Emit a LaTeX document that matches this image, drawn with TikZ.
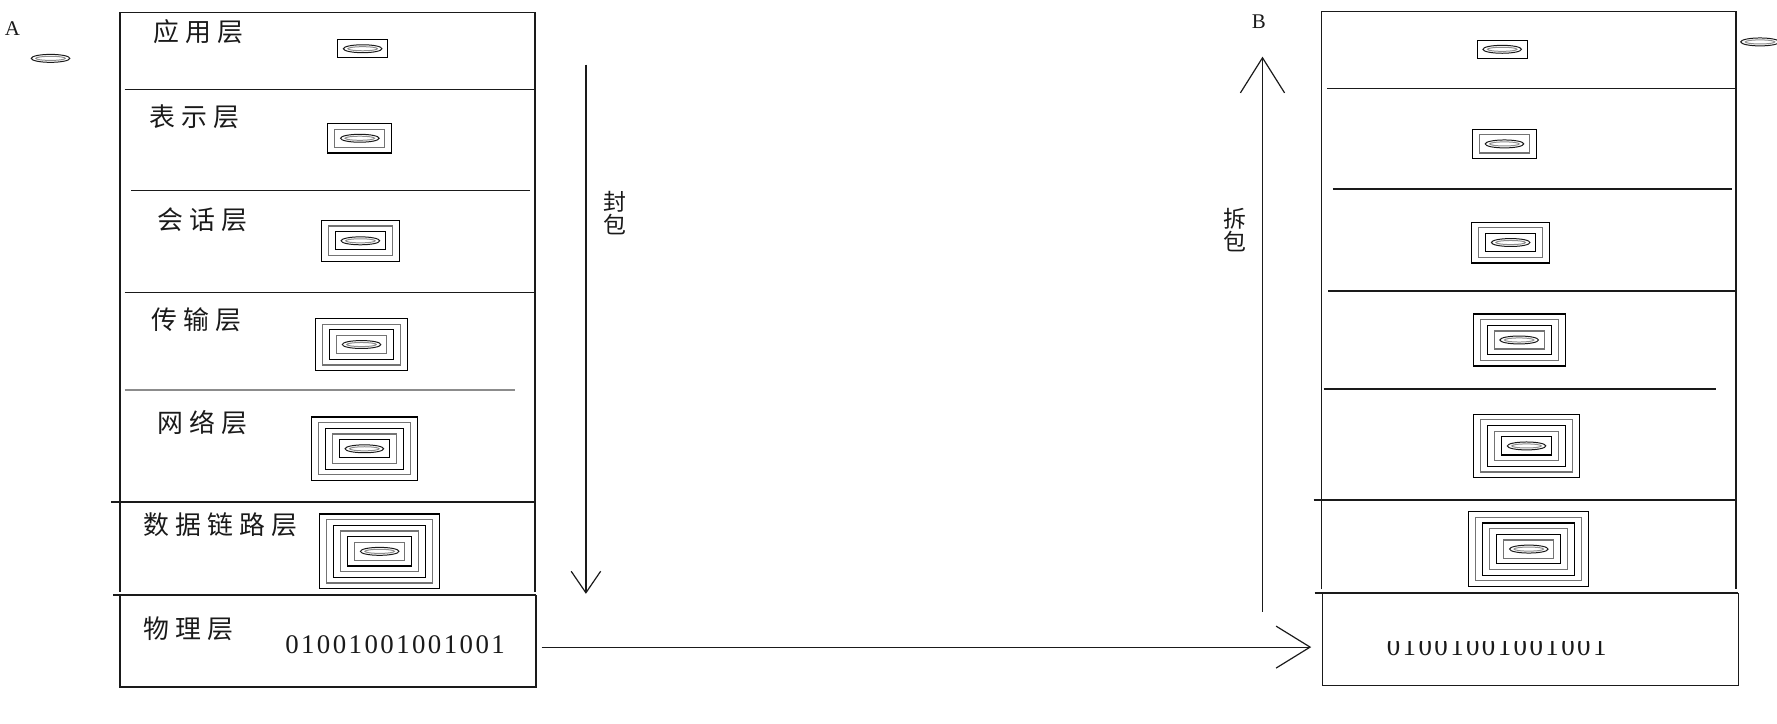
\documentclass[tikz,border=0pt]{standalone}
\usepackage{fontspec}
\setmainfont{Liberation Serif}
\newfontfamily\cjk[LetterSpace=24]{Noto Sans CJK SC}
\newfontfamily\cjktight{Noto Sans CJK SC}
\newfontfamily\bitfont[LetterSpace=9]{Liberation Serif}
\usetikzlibrary{arrows.meta}
\definecolor{osiInk}{HTML}{1A1A1A}
\definecolor{osiGray}{HTML}{8C8C8C}

\begin{document}
\begin{tikzpicture}[x=0.02cm, y=-0.02cm, line width=0.8pt, draw=osiInk,
  layer/.style={inner sep=0, anchor=west, text=osiInk, font=\fontsize{13}{15}\cjk},
  bits/.style={inner sep=0, anchor=west, text=osiInk, font=\fontsize{13.5}{15}\bitfont},
  host/.style={inner sep=0, text=osiInk, font=\fontsize{10.5}{12}\selectfont},
  flow/.style={inner sep=0, align=center, text=osiInk, font=\fontsize{11.5}{11.5}\cjktight},
  wire/.style={line width=0.6pt}]
  \useasboundingbox (0,0) rectangle (1568,638);
  % Payload and nested headers: centre x, centre y, number of frames
  \newcommand{\pill}[2]{\draw[line width=0.5pt] (#1,#2) ellipse [x radius=17, y radius=3.5];
    \draw[osiGray, line width=0.5pt] (#1,#2) ellipse [x radius=13, y radius=1.8];}
  \newcommand{\packet}[3]{\foreach \i in {1,...,#3}{
      \pgfmathtruncatemacro\tone{100-45*mod(#3-\i,2)}
      \draw[black!\tone, line width=0.6pt] ({#1-22-6.2*(\i-1)},{#2-8-5*(\i-1)}) rectangle ({#1+22+6.2*(\i-1)},{#2+8+5*(\i-1)});}
    \pill{#1}{#2}}
  % Host A
  \node[host] (hostA) at (11,25) {A};
  \pill{44.6}{51.5}
  \draw (106,522) -- (106,11) -- (472,11) -- (472,522);
  \foreach \y/\a/\b in {79/110/472, 168/116/468, 258/110/472, 443/98/472} \draw (\a,\y) -- (\b,\y);
  \draw[osiGray] (110,344) -- (454,344);
  \draw (100,525) -- (473,525) (106,525) -- (106,606) -- (473,606) -- (473,525);
  \node[layer] (appA) at (135,28) {应用层};
  \node[layer] (preA) at (131,103) {表示层};
  \node[layer] (sesA) at (138,193.5) {会话层};
  \node[layer] (traA) at (133,282) {传输层};
  \node[layer] (netA) at (138,373) {网络层};
  \node[layer] (dlkA) at (126,463) {数据链路层};
  \node[layer] (phyA) at (126,555) {物理层};
  \node[bits] (bitsA) at (251,569) {01001001001001};
  \packet{320}{43}{1}
  \packet{317.5}{122}{2}
  \packet{318}{212.5}{3}
  \packet{319}{304}{4}
  \packet{321.5}{396}{5}
  \packet{335}{486.5}{6}
  % Host B
  \node[host] (hostB) at (1110.7,19) {B};
  \pill{1553}{37}
  \draw (1166,520) -- (1166,10) -- (1532,10) -- (1532,520);
  \foreach \y/\a/\b in {78/1171/1532, 167/1176/1528, 257/1172/1532, 343/1168/1514, 441/1159/1532} \draw (\a,\y) -- (\b,\y);
  \draw (1160,523) -- (1534,523) (1167,523) -- (1167,605) -- (1534,605) -- (1534,523);
  \begin{scope}
    \clip (1200,566) rectangle (1450,600);
    \node[bits] (bitsB) at (1223,571) {01001001001001};
  \end{scope}
  \packet{1325.5}{43.5}{1}
  \packet{1327.5}{127}{2}
  \packet{1333}{214}{3}
  \packet{1340.5}{300}{4}
  \packet{1347}{393.5}{5}
  \packet{1349}{484.5}{6}
  % Encapsulation, wire, decapsulation
  \coordinate (encTop) at (517,57);
  \coordinate (encEnd) at (517,524);
  \coordinate (wireA) at (478,571);
  \coordinate (wireB) at (1157,571);
  \coordinate (decBot) at (1114,540);
  \coordinate (decTop) at (1114,50);
  \draw[wire, -{Straight Barb[length=0.38cm, width=0.52cm]}] (encTop) -- (encEnd);
  \draw[wire, -{Straight Barb[length=0.6cm, width=0.74cm]}] (wireA) -- (wireB);
  \draw[wire, -{Straight Barb[length=0.62cm, width=0.78cm]}] (decBot) -- (decTop);
  \node[flow] (encLbl) at (543,188) {封\\包};
  \node[flow] (decLbl) at (1090,203) {拆\\包};
\end{tikzpicture}
\end{document}
